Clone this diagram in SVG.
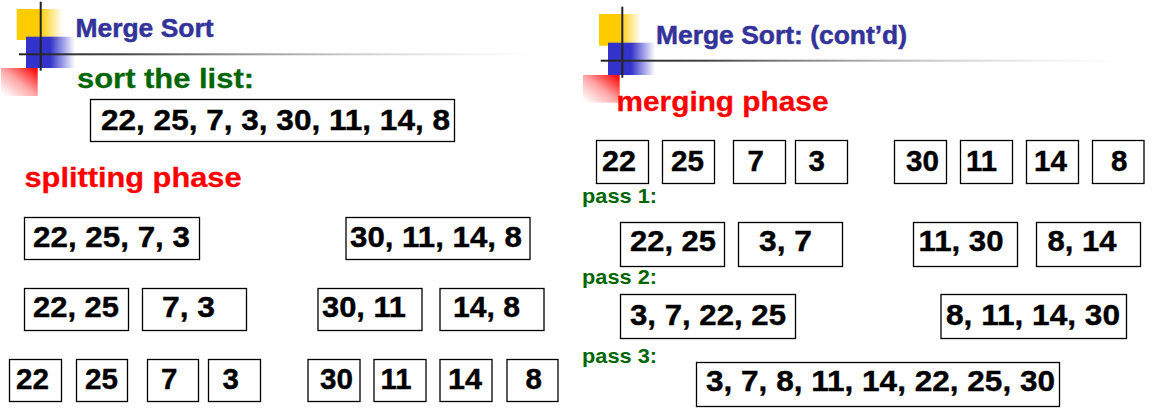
<svg xmlns="http://www.w3.org/2000/svg" width="1161" height="419" viewBox="0 0 1161 419">
  <defs>
    <linearGradient id="gYellow" x1="0" y1="0" x2="1" y2="0">
      <stop offset="0" stop-color="#FFCC00"/>
      <stop offset="0.5" stop-color="#FFCC00"/>
      <stop offset="1" stop-color="#FFCC00" stop-opacity="0"/>
    </linearGradient>
    <linearGradient id="gBlue" x1="0" y1="0" x2="1" y2="0">
      <stop offset="0" stop-color="#3333CC"/>
      <stop offset="0.49" stop-color="#3333CC"/>
      <stop offset="1" stop-color="#3333CC" stop-opacity="0"/>
    </linearGradient>
    <linearGradient id="gRed" x1="1" y1="0" x2="0" y2="1">
      <stop offset="0" stop-color="#FF0000"/>
      <stop offset="0.1" stop-color="#FF0000" stop-opacity="0.9"/>
      <stop offset="0.5" stop-color="#FF0000" stop-opacity="0.35"/>
      <stop offset="0.95" stop-color="#FF0000" stop-opacity="0"/>
    </linearGradient>
    <linearGradient id="gRule" x1="0" y1="0" x2="1" y2="0">
      <stop offset="0" stop-color="#222222"/>
      <stop offset="0.2" stop-color="#444444"/>
      <stop offset="0.6" stop-color="#999999" stop-opacity="0.6"/>
      <stop offset="1" stop-color="#cccccc" stop-opacity="0"/>
    </linearGradient>
  </defs>
  <style>
    .box { fill: #ffffff; stroke: #000000; stroke-width: 1.3; }
    .num { font-family: "Liberation Sans", Arial, sans-serif; font-weight: bold; font-size: 29.5px; fill: #000000; stroke: #000000; stroke-width: 0.4; }
    .title { font-family: "Liberation Sans", Arial, sans-serif; font-weight: bold; font-size: 26px; fill: #333399; stroke: #333399; stroke-width: 0.5; }
    .head { font-family: "Liberation Sans", Arial, sans-serif; font-weight: bold; font-size: 28px; fill: #006600; stroke: #006600; stroke-width: 0.3; }
    .phase { font-family: "Liberation Sans", Arial, sans-serif; font-weight: bold; font-size: 27px; fill: #FF0000; stroke: #FF0000; stroke-width: 0.3; }
    .pass { font-family: "Liberation Sans", Arial, sans-serif; font-weight: bold; font-size: 20.5px; fill: #006600; }
    .vline { fill: #222222; }
  </style>

  <rect x="0" y="0" width="1161" height="419" fill="#ffffff"/>

  <!-- slide emblem, left -->
  <g id="emblem-left">
    <rect x="16.7" y="9" width="46" height="31" fill="url(#gYellow)"/>
    <rect x="26" y="36.7" width="49" height="31.3" fill="url(#gBlue)"/>
    <rect x="1" y="68" width="36.7" height="28" fill="url(#gRed)"/>
    <rect x="39.7" y="1.7" width="2" height="69" class="vline"/>
    <rect x="19" y="53.3" width="520" height="2" fill="url(#gRule)"/>
  </g>

  <!-- slide emblem, right -->
  <g id="emblem-right">
    <rect x="599" y="14" width="42" height="31.7" fill="url(#gYellow)"/>
    <rect x="608" y="42.7" width="47" height="32.3" fill="url(#gBlue)"/>
    <rect x="583" y="75" width="36.7" height="27.7" fill="url(#gRed)"/>
    <rect x="621.3" y="6.7" width="2" height="71" class="vline"/>
    <rect x="600.7" y="59.7" width="520" height="2" fill="url(#gRule)"/>
  </g>

  <!-- headings -->
  <g id="labels">
    <text x="75.5" y="37.3" class="title" textLength="138" lengthAdjust="spacingAndGlyphs">Merge Sort</text>
    <text x="656" y="44" class="title" textLength="251" lengthAdjust="spacingAndGlyphs">Merge Sort: (cont’d)</text>
    <text x="77" y="88.3" class="head" textLength="177" lengthAdjust="spacingAndGlyphs">sort the list:</text>
    <text x="24.5" y="187.3" class="phase" textLength="217" lengthAdjust="spacingAndGlyphs">splitting phase</text>
    <text x="616.5" y="111" class="phase" textLength="212" lengthAdjust="spacingAndGlyphs">merging phase</text>
    <text x="582" y="203" class="pass" textLength="75" lengthAdjust="spacingAndGlyphs">pass 1:</text>
    <text x="582" y="283.5" class="pass" textLength="75" lengthAdjust="spacingAndGlyphs">pass 2:</text>
    <text x="582" y="362.5" class="pass" textLength="75" lengthAdjust="spacingAndGlyphs">pass 3:</text>
  </g>

  <!-- splitting phase -->
  <g id="list-all">
    <rect x="90.5" y="99.5" width="364" height="42" class="box"/>
    <text x="101" y="129.5" class="num" textLength="349" lengthAdjust="spacingAndGlyphs">22, 25, 7, 3, 30, 11, 14, 8</text>
  </g>
  <g id="split-a">
    <rect x="24.5" y="217.5" width="175" height="42" class="box"/>
    <text x="33" y="247" class="num" textLength="157" lengthAdjust="spacingAndGlyphs">22, 25, 7, 3</text>
  </g>
  <g id="split-b">
    <rect x="346" y="217.5" width="184" height="42" class="box"/>
    <text x="350" y="247" class="num" textLength="172" lengthAdjust="spacingAndGlyphs">30, 11, 14, 8</text>
  </g>
  <g id="split-aa">
    <rect x="24.5" y="288.5" width="104" height="42" class="box"/>
    <text x="33" y="317" class="num" textLength="86" lengthAdjust="spacingAndGlyphs">22, 25</text>
  </g>
  <g id="split-ab">
    <rect x="142.5" y="288.5" width="104" height="42" class="box"/>
    <text x="162" y="317" class="num" textLength="53" lengthAdjust="spacingAndGlyphs">7, 3</text>
  </g>
  <g id="split-ba">
    <rect x="318" y="288.5" width="104" height="42" class="box"/>
    <text x="322" y="317" class="num" textLength="84" lengthAdjust="spacingAndGlyphs">30, 11</text>
  </g>
  <g id="split-bb">
    <rect x="440" y="288.5" width="104" height="42" class="box"/>
    <text x="453" y="317" class="num" textLength="67" lengthAdjust="spacingAndGlyphs">14, 8</text>
  </g>
  <g id="split-1">
    <rect x="9.5" y="359.5" width="52" height="42" class="box"/>
    <text x="16" y="388.5" class="num" textLength="33" lengthAdjust="spacingAndGlyphs">22</text>
  </g>
  <g id="split-2">
    <rect x="76.5" y="359.5" width="51" height="42" class="box"/>
    <text x="85" y="388.5" class="num" textLength="33" lengthAdjust="spacingAndGlyphs">25</text>
  </g>
  <g id="split-3">
    <rect x="147.5" y="359.5" width="51" height="42" class="box"/>
    <text x="161" y="388.5" class="num">7</text>
  </g>
  <g id="split-4">
    <rect x="208.5" y="359.5" width="52" height="42" class="box"/>
    <text x="222.5" y="388.5" class="num">3</text>
  </g>
  <g id="split-5">
    <rect x="308" y="359.5" width="52" height="42" class="box"/>
    <text x="320" y="388.5" class="num" textLength="33" lengthAdjust="spacingAndGlyphs">30</text>
  </g>
  <g id="split-6">
    <rect x="374" y="359.5" width="52" height="42" class="box"/>
    <text x="380.5" y="388.5" class="num" textLength="31" lengthAdjust="spacingAndGlyphs">11</text>
  </g>
  <g id="split-7">
    <rect x="440" y="359.5" width="52" height="42" class="box"/>
    <text x="448" y="388.5" class="num" textLength="34" lengthAdjust="spacingAndGlyphs">14</text>
  </g>
  <g id="split-8">
    <rect x="507" y="359.5" width="51" height="42" class="box"/>
    <text x="525.5" y="388.5" class="num">8</text>
  </g>

  <!-- merging phase -->
  <g id="merge-1">
    <rect x="596.5" y="140.5" width="52" height="43" class="box"/>
    <text x="602" y="170.5" class="num" textLength="34" lengthAdjust="spacingAndGlyphs">22</text>
  </g>
  <g id="merge-2">
    <rect x="662.5" y="140.5" width="52" height="43" class="box"/>
    <text x="671" y="170.5" class="num" textLength="33" lengthAdjust="spacingAndGlyphs">25</text>
  </g>
  <g id="merge-3">
    <rect x="733.5" y="140.5" width="52" height="43" class="box"/>
    <text x="747.5" y="170.5" class="num">7</text>
  </g>
  <g id="merge-4">
    <rect x="795.5" y="140.5" width="52" height="43" class="box"/>
    <text x="808.5" y="170.5" class="num">3</text>
  </g>
  <g id="merge-5">
    <rect x="894.5" y="140.5" width="52" height="43" class="box"/>
    <text x="906" y="170.5" class="num" textLength="33" lengthAdjust="spacingAndGlyphs">30</text>
  </g>
  <g id="merge-6">
    <rect x="960.5" y="140.5" width="52" height="43" class="box"/>
    <text x="966" y="170.5" class="num" textLength="31" lengthAdjust="spacingAndGlyphs">11</text>
  </g>
  <g id="merge-7">
    <rect x="1026.5" y="140.5" width="52" height="43" class="box"/>
    <text x="1034" y="170.5" class="num" textLength="33" lengthAdjust="spacingAndGlyphs">14</text>
  </g>
  <g id="merge-8">
    <rect x="1092.5" y="140.5" width="51.5" height="43" class="box"/>
    <text x="1111" y="170.5" class="num">8</text>
  </g>

  <g id="pass1-a">
    <rect x="620.5" y="222.5" width="104" height="44" class="box"/>
    <text x="630" y="251" class="num" textLength="86" lengthAdjust="spacingAndGlyphs">22, 25</text>
  </g>
  <g id="pass1-b">
    <rect x="738.5" y="222.5" width="104" height="44" class="box"/>
    <text x="759" y="251" class="num" textLength="53" lengthAdjust="spacingAndGlyphs">3, 7</text>
  </g>
  <g id="pass1-c">
    <rect x="913.5" y="222.5" width="104" height="44" class="box"/>
    <text x="918.5" y="251" class="num" textLength="85" lengthAdjust="spacingAndGlyphs">11, 30</text>
  </g>
  <g id="pass1-d">
    <rect x="1036.5" y="222.5" width="104" height="44" class="box"/>
    <text x="1047.5" y="251" class="num" textLength="69" lengthAdjust="spacingAndGlyphs">8, 14</text>
  </g>

  <g id="pass2-a">
    <rect x="620.5" y="294.5" width="175" height="44" class="box"/>
    <text x="630" y="324.5" class="num" textLength="156" lengthAdjust="spacingAndGlyphs">3, 7, 22, 25</text>
  </g>
  <g id="pass2-b">
    <rect x="941" y="294.5" width="185.5" height="44" class="box"/>
    <text x="946" y="324.5" class="num" textLength="174" lengthAdjust="spacingAndGlyphs">8, 11, 14, 30</text>
  </g>

  <g id="pass3">
    <rect x="696.5" y="362.5" width="363" height="44" class="box"/>
    <text x="706" y="391" class="num" textLength="349" lengthAdjust="spacingAndGlyphs">3, 7, 8, 11, 14, 22, 25, 30</text>
  </g>
</svg>
